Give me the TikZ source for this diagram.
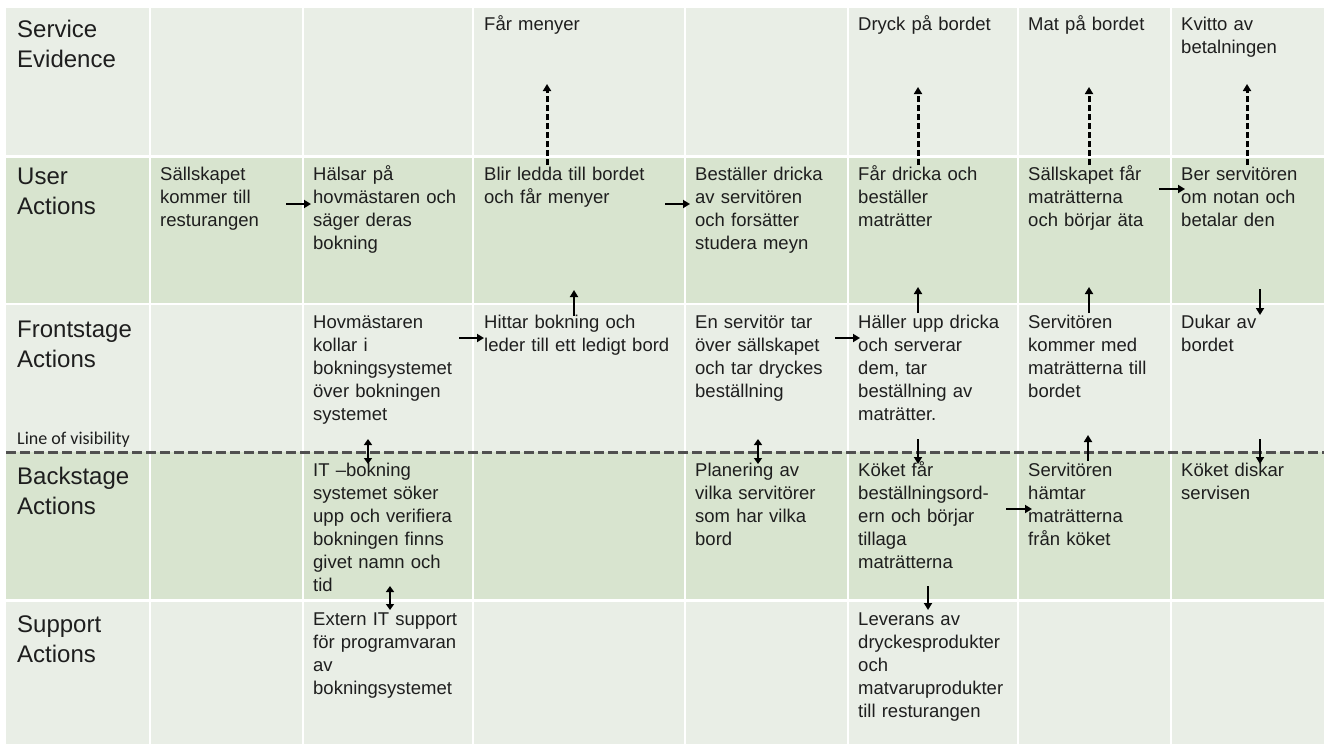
\documentclass[tikz,border=0pt]{standalone}
\usepackage{fontspec}
\setmainfont{Liberation Sans}
\newfontfamily\notefont{Carlito}
\usetikzlibrary{arrows.meta}
\definecolor{lightrow}{RGB}{233,238,230}
\definecolor{darkrow}{RGB}{216,228,207}
\definecolor{ink}{RGB}{30,30,30}
\definecolor{visline}{RGB}{80,80,80}

\tikzset{
  rowhead/.style={anchor=north west, inner sep=0pt, align=left, text width=140pt,
    font=\fontsize{24}{30}\selectfont, text=ink},
  celltext/.style={anchor=north west, inner sep=0pt, align=left, text width=230pt,
    font=\fontsize{18.5}{23}\selectfont, text=ink},
  flow/.style={line width=2.4pt, -{Triangle[length=7pt,width=8pt]}},
  evid/.style={line width=3pt, dash pattern=on 6pt off 3pt, -{Triangle[length=7pt,width=8pt]}},
  both/.style={line width=2.4pt, {Triangle[length=6pt,width=8pt]}-{Triangle[length=6pt,width=8pt]}},
}

\begin{document}
\begin{tikzpicture}[x=1pt,y=-1pt]
\useasboundingbox (0,0) rectangle (1329,744);
\fill[white] (0,0) rectangle (1329,744);

% grid of swimlane cells
\foreach \l/\r in {6/149,151/302,304/472,474/684,686/847,849/1017,1019/1170,1172/1324}{
  \foreach \t/\b/\c in {8/155/lightrow,158/303/darkrow,305/452/lightrow,452/599/darkrow,602/744/lightrow}{
    \fill[\c] (\l,\t) rectangle (\r,\b);
  }
}

% line of visibility
\draw[visline, line width=3pt, dash pattern=on 10pt off 4pt] (6,452) -- (1324,452);
\node[anchor=base west, inner sep=0pt, font=\notefont\fontsize{18}{22}\selectfont, text=ink]
  (vis) at (17,444) {Line of visibility};

% row headings
\node[rowhead] (hEv) at (17,16)  {\strut Service\\Evidence};
\node[rowhead] (hUs) at (17,163) {\strut User\\Actions};
\node[rowhead] (hFr) at (17,316) {\strut Frontstage\\Actions};
\node[rowhead] (hBa) at (17,463) {\strut Backstage\\Actions};
\node[rowhead] (hSu) at (17,611) {\strut Support\\Actions};

% service evidence
\node[celltext] (e3) at (484,14)  {\strut Får menyer};
\node[celltext] (e5) at (858,14)  {\strut Dryck på bordet};
\node[celltext] (e6) at (1028,14) {\strut Mat på bordet};
\node[celltext] (e7) at (1181,14) {\strut Kvitto av\\betalningen};

% user actions
\node[celltext] (u1) at (160,164)  {\strut Sällskapet\\kommer till\\resturangen};
\node[celltext] (u2) at (313,164)  {\strut Hälsar på\\hovmästaren och\\säger deras\\bokning};
\node[celltext] (u3) at (484,164)  {\strut Blir ledda till bordet\\och får menyer};
\node[celltext] (u4) at (695,164)  {\strut Beställer dricka\\av servitören\\och forsätter\\studera meyn};
\node[celltext] (u5) at (858,164)  {\strut Får dricka och\\beställer\\maträtter};
\node[celltext] (u6) at (1028,164) {\strut Sällskapet får\\maträtterna\\och börjar äta};
\node[celltext] (u7) at (1181,164) {\strut Ber servitören\\om notan och\\betalar den};

% frontstage actions
\node[celltext] (f2) at (313,312)  {\strut Hovmästaren\\kollar i\\bokningsystemet\\över bokningen\\systemet};
\node[celltext] (f3) at (484,312)  {\strut Hittar bokning och\\leder till ett ledigt bord};
\node[celltext] (f4) at (695,312)  {\strut En servitör tar\\över sällskapet\\och tar dryckes\\beställning};
\node[celltext] (f5) at (858,312)  {\strut Häller upp dricka\\och serverar\\dem, tar\\beställning av\\maträtter.};
\node[celltext] (f6) at (1028,312) {\strut Servitören\\kommer med\\maträtterna till\\bordet};
\node[celltext] (f7) at (1181,312) {\strut Dukar av\\bordet};

% backstage actions
\node[celltext] (b2) at (313,460)  {\strut IT –bokning\\systemet söker\\upp och verifiera\\bokningen finns\\givet namn och\\tid};
\node[celltext] (b4) at (695,460)  {\strut Planering av\\vilka servitörer\\som har vilka\\bord};
\node[celltext] (b5) at (858,460)  {\strut Köket får\\beställningsord-\\ern och börjar\\tillaga\\maträtterna};
\node[celltext] (b6) at (1028,460) {\strut Servitören\\hämtar\\maträtterna\\från köket};
\node[celltext] (b7) at (1181,460) {\strut Köket diskar\\servisen};

% support actions
\node[celltext] (s2) at (313,609) {\strut Extern IT support\\för programvaran\\av\\bokningsystemet};
\node[celltext] (s5) at (858,609) {\strut Leverans av\\dryckesprodukter\\och\\matvaruprodukter\\till resturangen};

% connector end points
\coordinate (u1o) at (286,204);  \coordinate (u2i) at (311,204);
\coordinate (u3o) at (665,204);  \coordinate (u4i) at (690,204);
\coordinate (u6o) at (1159,189); \coordinate (u7i) at (1185,189);
\coordinate (f2o) at (459,338);  \coordinate (f3i) at (484,338);
\coordinate (f4o) at (835,338);  \coordinate (f5i) at (860,338);
\coordinate (b5o) at (1006,509); \coordinate (b6i) at (1032,509);

\coordinate (u3e) at (547,165);  \coordinate (e3u) at (547,84);
\coordinate (u5e) at (918,165);  \coordinate (e5u) at (918,87);
\coordinate (u6e) at (1089,165); \coordinate (e6u) at (1089,87);
\coordinate (u7e) at (1247,165); \coordinate (e7u) at (1247,84);

\coordinate (f3u) at (574,316);  \coordinate (u3f) at (574,290);
\coordinate (f5u) at (918,313);  \coordinate (u5f) at (918,287);
\coordinate (f6u) at (1089,313); \coordinate (u6f) at (1089,287);
\coordinate (u7f) at (1260,289); \coordinate (f7u) at (1260,315);

\coordinate (f2b) at (368,439);  \coordinate (b2f) at (368,464);
\coordinate (f4b) at (758,439);  \coordinate (b4f) at (758,464);
\coordinate (f5b) at (918,439);  \coordinate (b5f) at (918,464);
\coordinate (b6f) at (1088,461); \coordinate (f6b) at (1088,435);
\coordinate (f7b) at (1260,439); \coordinate (b7f) at (1260,464);

\coordinate (b2s) at (390,586);  \coordinate (s2b) at (390,610);
\coordinate (b5s) at (928,586);  \coordinate (s5b) at (928,610);

% flow along the lanes
\draw[flow] (u1o) -- (u2i);
\draw[flow] (u3o) -- (u4i);
\draw[flow] (u6o) -- (u7i);
\draw[flow] (f2o) -- (f3i);
\draw[flow] (f4o) -- (f5i);
\draw[flow] (b5o) -- (b6i);

% evidence produced by user actions
\draw[evid] (u3e) -- (e3u);
\draw[evid] (u5e) -- (e5u);
\draw[evid] (u6e) -- (e6u);
\draw[evid] (u7e) -- (e7u);

% between lanes
\draw[flow] (f3u) -- (u3f);
\draw[flow] (f5u) -- (u5f);
\draw[flow] (f6u) -- (u6f);
\draw[flow] (u7f) -- (f7u);
\draw[both] (f2b) -- (b2f);
\draw[both] (f4b) -- (b4f);
\draw[flow] (f5b) -- (b5f);
\draw[flow] (b6f) -- (f6b);
\draw[flow] (f7b) -- (b7f);
\draw[both] (b2s) -- (s2b);
\draw[flow] (b5s) -- (s5b);
\end{tikzpicture}
\end{document}
